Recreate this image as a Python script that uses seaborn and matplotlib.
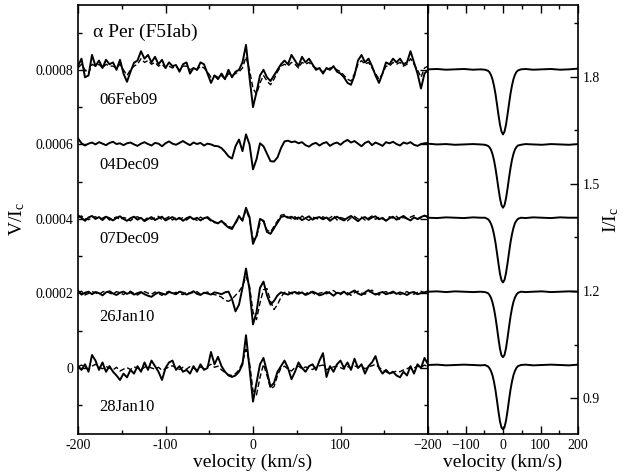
import numpy as np
import pandas as pd
import matplotlib
matplotlib.use("Agg")
import matplotlib.pyplot as plt
import seaborn as sns
from matplotlib.ticker import MultipleLocator, FuncFormatter

# ---------------- data ----------------
dates = ["06Feb09", "04Dec09", "07Dec09", "26Jan10", "28Jan10"]
V_offsets = [0.0008, 0.0006, 0.0004, 0.0002, 0.0]
I_offsets = [0.82, 0.61, 0.405, 0.2, 0.0]

# Stokes V velocity grid (km/s)
velocity = np.arange(-200, 201, 4)

# Stokes V values in units of 1e-5 (relative to each offset)
V_06Feb09 = [1, 3, -2, -1.5, 4, 1, 2.5, 0.5, 2.7, 1.5,
             2, 0, 2.7, -1, -3.2, -0.5, 1.9, 2.5, 5, 3,
             4, 2, 3.5, 1.5, 2.7, 0.5, 2, 1, 1.3, -0.5,
             1.5, 2, -1, 0.5, 0, 2, 1.5, -1, -3.5, -1.5,
             -2.5, -1, -2.5, 0, -2, -0.5, 0, 2, 6.7, -2,
             -10, -6, -1.5, 0, -2, -3, -1.5, 0, 1.5, 2.5,
             1.5, 4, 2.5, 1, 3.5, 2, 3, 1.5, 0, 0.5,
             -1, 0.5, 0, 1, -0.5, -1, -2, -3.5, -4, -1.5,
             2.5, 4, 2, 3, 1, -1.5, -3.5, -1, 2, 1.5,
             3, 2, 3, 1.5, 2, 5, 2, -1, -5, -1,
             0]
V_06Feb09_dash = [0.5, 1.5, 0, -1, 1.5, 1, 1.5, 0.5, 1.5, 1,
                  1, 0.5, 1.5, 0, -1.5, 0, 1, 1.5, 3, 2,
                  2.5, 1.5, 2, 1, 1.5, 0.5, 1, 0.5, 1, 0,
                  1, 1, 0, 0.5, 0, 1, 0.5, -0.5, -2, -1.5,
                  -2, -1.5, -2.5, -1, -1.5, -1, -0.5, 0.5, 3.5, 0,
                  -5, -6.5, -3.5, -1.5, -3, -4, -2.5, -0.5, 1, 1.5,
                  1, 2, 1.5, 0.5, 2, 1.5, 2, 1, 0.5, 0,
                  -0.5, 0, 0.5, 0.5, 0, -0.5, -1.5, -2.5, -3, -1,
                  1.5, 2.5, 1.5, 2, 0.5, -1, -2.5, -1, 1, 1,
                  2, 1.5, 2, 1, 1.5, 3, 1.5, 0, -2, 0.5,
                  1]
V_04Dec09 = [1.6, 0.3, -0.3, 0.2, 0.5, 0.0, 0.6, 0.2, -0.2, 0.4,
             0.7, 0.1, 0.3, -0.2, 0.3, 0.5, 0.0, -0.4, 0.2, 0.6,
             0.1, -0.3, 0.4, 0.2, -0.5, 0.3, 0.8, 0.2, -0.1, 0.4,
             0.9, 0.3, -0.2, 0.5, 0.1, 0.4, -0.3, 0.2, 0.0, -0.4,
             -0.5, -1.0, -2.0, -3.2, -3.8, -0.5, 1.3, -1.8, 2.7, 0.0,
             -6.7, -4.0, 0.3, -0.5, -2.5, -4.5, -4.6, -3.5, -1.0, 0.8,
             1.0, 0.6, 0.8, 0.3, 0.6, -0.2, -0.6, 0.1, 0.4, -0.3,
             0.3, 0.6, -0.4, 0.2, 0.5, -0.1, 0.7, 1.2, 0.5, 0.9,
             0.2, -0.5, 0.4, 0.8, -0.2, 0.5, 0.1, -0.4, 0.6, 0.3,
             0.7, 0.1, -0.3, 0.5, 0.2, 0.6, -0.1, -0.4, 0.1, 0.3,
             0.4]
V_07Dec09 = [1.0, 0.3, -0.5, 0.4, 0.8, 0.0, 0.5, -0.3, 0.6, 0.2,
             -0.4, 0.3, 0.7, 0.0, -0.5, 0.2, 0.6, -0.2, 0.3, -0.6,
             0.0, 0.5, -0.3, 0.2, 0.6, -0.4, 0.1, 0.5, -0.2, 0.3,
             -0.5, 0.2, 0.6, -0.1, 0.3, -0.4, 0.2, 0.5, -0.3, -0.8,
             -1.2, -0.5, -1.5, -2.3, -2.7, -1.0, 0.8, -0.5, 3.0, 0.5,
             -6.7, -4.5, 0.0, -0.5, -3.5, -4.0, -2.5, -1.0, 0.5, 0.8,
             0.3, 0.6, 0.0, 0.4, -0.3, 0.2, 0.7, -0.2, 0.3, 0.5,
             -0.1, 0.4, -0.5, 0.2, 0.6, 0.0, -0.4, 0.3, 0.8, 0.1,
             -0.6, 0.2, 0.5, -0.2, 0.4, 0.7, -0.1, 0.3, -0.5, 0.2,
             0.6, -0.2, 0.3, 0.8, 0.1, -0.4, 0.4, 0.0, 0.5, 0.9,
             0.6]
V_07Dec09_dash = [0.4, 0.8, 0.1, -0.2, 0.3, 0.6, -0.1, 0.2, 0.7, -0.3,
                  0.2, 0.5, -0.2, 0.4, 0.1, -0.5, 0.3, 0.6, 0.0, -0.3,
                  0.4, -0.1, 0.3, 0.7, -0.2, 0.1, 0.6, -0.3, 0.5, 0.0,
                  0.3, -0.3, 0.4, 0.1, -0.4, 0.5, -0.1, 0.2, -0.6, -1.0,
                  -1.0, -0.8, -1.2, -2.0, -2.3, -1.2, 0.3, -0.3, 2.5, 0.0,
                  -5.5, -5.0, -1.0, -0.5, -3.0, -3.5, -2.0, -0.5, 1.0, 1.2,
                  0.5, 0.0, 0.6, -0.3, 0.8, 0.1, -0.4, 0.5, 0.2, -0.2,
                  0.6, 0.0, 0.3, 1.0, -0.3, 0.4, 0.1, -0.5, 0.3, 0.7,
                  0.0, 0.5, -0.3, 0.2, 0.8, -0.1, 0.4, 0.0, -0.4, 0.6,
                  0.2, 0.7, -0.2, 0.4, 0.0, 0.5, 0.9, -0.1, 0.3, 0.8,
                  0.4]
V_26Jan10 = [0.8, -0.3, 0.2, 0.5, -0.2, 0.4, 0.1, -0.5, 0.3, 0.6,
             0.0, -0.4, 0.2, 0.5, -0.1, 0.3, -0.3, 0.1, 0.4, -0.2,
             -0.6, -0.9, -0.2, 0.3, 0.0, -0.3, 0.4, 0.1, -0.2, 0.5,
             0.2, -0.3, 0.1, 0.6, -0.1, -0.4, 0.2, 0.0, -0.3, 0.3,
             0.1, -0.2, 0.3, 0.5, -1.5, -4.8, -3.0, 1.5, 6.7, 1.0,
             -8.3, -5.0, 1.5, 3.2, -0.5, -3.0, -2.0, -0.5, 0.3, 0.0,
             -0.3, 0.2, 0.4, -0.1, 0.3, -0.4, 0.0, 0.5, 0.1, -0.5,
             -0.2, 0.4, 0.1, -0.6, 0.2, 0.0, 0.5, -0.3, 0.3, 0.8,
             0.0, -0.4, 0.3, 0.9, 0.2, -0.3, 0.1, 0.4, -0.2, 0.1,
             0.5, -0.1, 0.3, 0.0, -0.4, 0.2, 0.4, -0.2, 0.1, 0.3,
             0.6]
V_26Jan10_dash = [0.3, 0.6, -0.4, 0.0, 0.5, 0.2, -0.3, 0.4, 0.7, 0.1,
                  -0.2, 0.5, 0.2, -0.3, 0.3, 0.6, 0.0, -0.4, 0.2, 0.5,
                  0.1, -0.2, 0.4, 0.0, -0.5, 0.2, 0.6, -0.1, 0.3, 0.0,
                  -0.3, 0.4, 0.0, 0.3, 0.5, -0.2, 0.1, 0.4, -0.1, -0.3,
                  -0.5, -1.0, -1.8, -2.1, -1.5, -0.5, 0.5, 2.0, 4.5, 2.0,
                  -5.0, -7.0, -2.5, 1.0, 1.3, -2.0, -4.3, -3.0, -1.0, 0.3,
                  0.5, 0.0, -0.3, 0.4, 0.1, -0.2, 0.6, 0.2, -0.4, 0.1,
                  0.3, -0.1, 0.5, 0.8, 0.0, -0.3, 0.4, 0.2, -0.5, 0.2,
                  0.6, 0.1, -0.2, 0.3, 0.9, 0.0, -0.4, 0.2, 0.5, -0.1,
                  0.2, 0.4, -0.3, 0.1, 0.5, 0.0, -0.2, 0.3, 0.6, 0.2,
                  0.0]
V_28Jan10 = [0.5, -0.5, 1.0, -1.0, 3.5, 2.0, -0.5, 1.5, -1.0, 0.5,
             -1.0, -2.0, -3.2, -1.5, -2.5, -0.5, -1.5, 0.5, -1.0, 1.5,
             -0.5, 2.0, 0.5, -1.0, -3.2, 0.0, 1.5, 2.0, -0.5, 0.5,
             -1.0, -0.5, -1.5, 0.5, -1.0, 1.0, -0.5, 0.0, 4.3, 1.0,
             3.0, 0.5, -1.0, -2.0, -2.4, -2.0, -1.0, 1.0, 8.8, 0.0,
             -9.0, -4.0, 1.0, 2.7, -1.0, -5.0, -4.0, -1.0, 0.5, 2.0,
             0.0, -3.0, -1.0, 1.5, 0.0, -1.0, 0.5, 1.0, -0.5, 2.0,
             4.0, -2.4, 0.5, -1.0, 1.0, 2.0, 0.0, 1.5, -0.5, 2.5,
             0.0, 1.0, -1.5, 0.5, 1.5, 3.2, 0.0, -1.5, -0.5, -1.5,
             -1.0, -2.0, -2.5, -1.0, -2.0, 0.5, -1.5, 1.0, 0.0, 2.7,
             1.0]
V_28Jan10_dash = [0.3, 0.8, 0.2, -0.3, 0.5, 1.0, 0.3, -0.2, 0.4, 0.0,
                  -0.5, 0.2, -0.8, -0.3, 0.1, -0.4, 0.3, 0.0, -0.5, 0.2,
                  0.5, 0.0, -0.3, 0.2, -0.6, -0.2, 0.3, 0.6, 0.0, -0.4,
                  0.2, -0.3, 0.4, 0.0, -0.5, 0.3, -0.2, 0.5, 1.0, 0.2,
                  0.5, -0.5, -1.2, -1.8, -2.0, -1.5, -0.5, 1.5, 5.0, 1.5,
                  -6.0, -7.2, -2.5, 1.0, -2.0, -5.5, -5.0, -2.0, 0.0, 0.5,
                  -0.3, -0.8, 0.2, 0.5, -0.2, 0.3, 0.0, -0.4, 0.2, 0.6,
                  0.8, -0.5, 0.0, 0.3, 0.5, 0.1, -0.3, 0.4, 0.0, 0.6,
                  0.2, 0.5, -0.2, 0.3, 0.6, 1.0, 0.2, -0.5, -1.0, -1.5,
                  -1.2, -0.8, -1.0, -0.5, -0.2, 0.3, 0.0, 0.5, 0.2, 0.8,
                  0.3]

V_solid = [V_06Feb09, V_04Dec09, V_07Dec09, V_26Jan10, V_28Jan10]
V_dashed = [V_06Feb09_dash, None, V_07Dec09_dash, V_26Jan10_dash, V_28Jan10_dash]

# Stokes I profiles
I_velocity = [-200, -176, -152, -128, -104, -80, -60, -48, -40, -36, -32, -28, -24,
              -20, -16, -12, -8, -4, 0, 4, 8, 12, 16, 20, 24, 28, 32, 36, 40, 48,
              60, 80, 104, 128, 152, 176, 200]
I_06Feb09 = [1.000, 1.001, 0.999, 1.000, 1.001, 0.999, 1.000, 0.999, 0.996, 0.992, 0.984, 0.972, 0.954,
             0.931, 0.902, 0.872, 0.845, 0.826, 0.818, 0.826, 0.845, 0.873, 0.903, 0.932, 0.955, 0.973,
             0.985, 0.993, 0.997, 1.000, 1.001, 0.999, 1.000, 1.001, 0.999, 1.000, 1.002]
I_04Dec09 = [1.002, 1.000, 1.001, 0.999, 1.000, 1.001, 1.000, 0.999, 0.996, 0.992, 0.985, 0.973, 0.956,
             0.933, 0.905, 0.876, 0.849, 0.830, 0.823, 0.830, 0.849, 0.876, 0.906, 0.934, 0.957, 0.974,
             0.986, 0.993, 0.997, 0.999, 1.001, 1.000, 0.999, 1.001, 1.000, 0.999, 1.001]
I_07Dec09 = [1.000, 0.999, 1.001, 1.000, 0.999, 1.001, 1.000, 1.000, 0.996, 0.991, 0.983, 0.971, 0.953,
             0.930, 0.901, 0.871, 0.843, 0.825, 0.819, 0.826, 0.845, 0.872, 0.902, 0.931, 0.954, 0.972,
             0.985, 0.992, 0.997, 1.000, 0.999, 1.001, 1.000, 0.999, 1.001, 1.000, 1.000]
I_26Jan10 = [0.998, 0.999, 0.997, 0.999, 0.998, 0.997, 0.998, 0.997, 0.994, 0.989, 0.981, 0.968, 0.950,
             0.926, 0.897, 0.866, 0.838, 0.820, 0.815, 0.821, 0.840, 0.868, 0.899, 0.928, 0.952, 0.970,
             0.982, 0.990, 0.995, 0.998, 0.997, 0.998, 0.999, 0.997, 0.998, 0.999, 0.998]
I_28Jan10 = [0.993, 0.994, 0.992, 0.993, 0.994, 0.993, 0.992, 0.993, 0.989, 0.984, 0.976, 0.964, 0.946,
             0.922, 0.893, 0.862, 0.835, 0.818, 0.813, 0.819, 0.837, 0.864, 0.895, 0.924, 0.947, 0.965,
             0.977, 0.985, 0.990, 0.993, 0.994, 0.992, 0.993, 0.994, 0.993, 0.992, 0.994]
I_profiles = [I_06Feb09, I_04Dec09, I_07Dec09, I_26Jan10, I_28Jan10]

# Label positions (data coords of left panel)
label_y = [0.00072, 0.000546, 0.000346, 0.000138, -0.000105]

# ---------------- style ----------------
sns.set_theme(style="ticks", rc={
    "axes.edgecolor": "black", "axes.labelcolor": "black", "text.color": "black",
    "xtick.color": "black", "ytick.color": "black", "axes.linewidth": 1.2,
})
plt.rcParams["font.family"] = ["Liberation Serif", "DejaVu Serif"]
plt.rcParams["mathtext.fontset"] = "custom"
plt.rcParams["mathtext.rm"] = "Liberation Serif"
plt.rcParams["mathtext.it"] = "Liberation Serif:italic"

fig = plt.figure(figsize=(6.3, 4.75), dpi=100)
axL = fig.add_axes([78 / 630, 1 - 434 / 475, 350 / 630, 429 / 475])
axR = fig.add_axes([428 / 630, 1 - 434 / 475, 150 / 630, 429 / 475])

# ----- left panel: Stokes V -----
rows = []
for d, off, sol, dsh in zip(dates, V_offsets, V_solid, V_dashed):
    for v, val in zip(velocity, sol):
        rows.append((d, "obs", v, val * 1e-5 + off))
    if dsh is not None:
        for v, val in zip(velocity, dsh):
            rows.append((d, "model", v, val * 1e-5 + off))
dfV = pd.DataFrame(rows, columns=["date", "kind", "velocity", "V"])

for d in dates:
    sub = dfV[(dfV.date == d) & (dfV.kind == "model")]
    if len(sub):
        sns.lineplot(data=sub, x="velocity", y="V", ax=axL, color="black", lw=1.0,
                     linestyle=(0, (4, 2)), estimator=None, sort=False)
for d in dates:
    sub = dfV[(dfV.date == d) & (dfV.kind == "obs")]
    sns.lineplot(data=sub, x="velocity", y="V", ax=axL, color="black", lw=1.4,
                 estimator=None, sort=False)

axL.set_xlim(-200, 200)
axL.set_ylim(-0.000177, 0.000974)
axL.xaxis.set_major_locator(MultipleLocator(100))
axL.xaxis.set_minor_locator(MultipleLocator(50))
axL.yaxis.set_major_locator(MultipleLocator(0.0002))
axL.yaxis.set_minor_locator(MultipleLocator(0.0001))
axL.xaxis.set_major_formatter(FuncFormatter(lambda v, p: "" if v > 199 else f"{v:.0f}"))
axL.yaxis.set_major_formatter(FuncFormatter(lambda v, p: "0" if abs(v) < 1e-12 else f"{v:.4f}"))
axL.tick_params(which="both", direction="in", top=True, right=True, labelsize=10, width=1.0)
axL.tick_params(which="major", length=6)
axL.tick_params(which="minor", length=3)
axL.set_xlabel("velocity (km/s)", fontsize=14, labelpad=1)
axL.set_ylabel(r"V/I$_\mathrm{c}$", fontsize=14, labelpad=6)

for d, y in zip(dates, label_y):
    axL.text(-176, y, d, fontsize=12, va="center", ha="left")
axL.text(-183, 0.0009, "α Per (F5Iab)", fontsize=14, va="center", ha="left")

# ----- right panel: Stokes I -----
rowsI = []
for d, off, prof in zip(dates, I_offsets, I_profiles):
    for v, val in zip(I_velocity, prof):
        rowsI.append((d, v, val + off))
dfI = pd.DataFrame(rowsI, columns=["date", "velocity", "I"])
for d in dates:
    sns.lineplot(data=dfI[dfI.date == d], x="velocity", y="I", ax=axR, color="black",
                 lw=1.4, estimator=None, sort=False)

axR.set_xlim(-200, 200)
axR.set_ylim(0.8, 2.0)
axR.xaxis.set_major_locator(MultipleLocator(100))
axR.xaxis.set_minor_locator(MultipleLocator(50))
axR.yaxis.set_major_locator(MultipleLocator(0.3))
axR.yaxis.set_minor_locator(MultipleLocator(0.15))
axR.yaxis.set_major_formatter(FuncFormatter(lambda v, p: f"{v:.1f}" if 0.85 < v < 1.85 else ""))
axR.yaxis.tick_right()
axR.yaxis.set_label_position("right")
axR.tick_params(which="both", direction="in", top=True, left=False, right=True,
                labelsize=10, width=1.0)
axR.tick_params(which="major", length=6)
axR.tick_params(which="minor", length=3)
axR.set_xlabel("velocity (km/s)", fontsize=14, labelpad=1)
axR.set_ylabel(r"I/I$_\mathrm{c}$", fontsize=14, labelpad=1)

fig.savefig("out.png", dpi=100)
